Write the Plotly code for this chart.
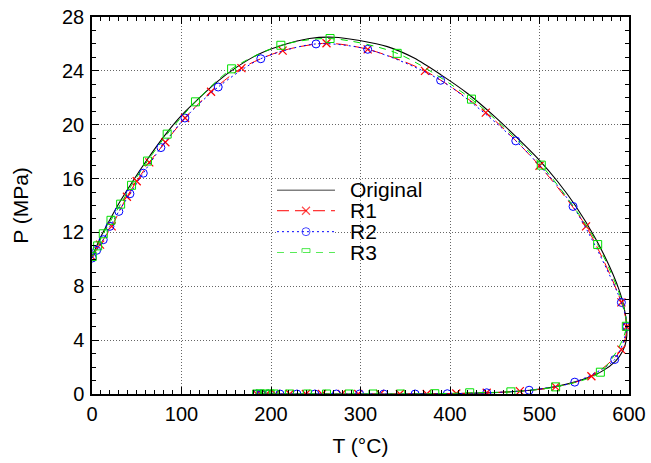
import plotly.graph_objects as go

# Original
T_orig = [0, 5, 10, 20, 30, 45, 60, 80, 100, 120, 140, 160, 185, 210, 243, 270, 299, 330, 360, 390,
          420, 450, 480, 500, 520, 540, 563, 578, 588, 594, 597.5, 597, 593, 585, 570, 555, 540, 518,
          490, 468, 440, 410, 380, 345, 300, 250, 183]
P_orig = [10.2, 10.95, 11.7, 12.95, 14.15, 15.75, 17.25, 19.1, 20.7, 22.0, 23.2, 24.2, 25.2, 25.85, 26.4,
          26.5, 26.25, 25.8, 24.95, 23.7, 22.3, 20.6, 18.7, 17.35, 15.8, 14.0, 11.5, 9.5, 7.9, 6.6, 5.0,
          4.0, 3.2, 2.45, 1.7, 1.25, 0.9, 0.55, 0.28, 0.17, 0.08, 0.04, 0.02, 0.0, 0.0, 0.0, 0.0]

# R1
T_r1 = [0, 9, 22, 39, 50, 64, 82, 104, 133, 167, 213, 262, 308, 372, 440, 500, 552, 591.5, 597.5, 591.5,
        558, 518, 478, 441, 407, 374, 344, 322, 297.5, 279, 257, 239, 221, 205, 195, 188, 184]
P_r1 = [10.2, 11.1, 12.45, 14.65, 15.8, 17.2, 18.7, 20.5, 22.45, 24.2, 25.5, 26.05, 25.6, 24.0, 20.9, 16.95,
        12.45, 6.8, 5.0, 3.3, 1.32, 0.53, 0.21, 0.09, 0.04, 0.0, 0.0, 0.0, 0.0, 0.0, 0.0, 0.0, 0.0, 0.0,
        0.0, 0.0, 0.0]

# R2
T_r2 = [0.3, 5.2, 12.6, 20, 30, 42.4, 57.3, 77, 103.8, 141, 188.6, 250.3, 308, 389.5, 473.5, 537.5, 591.5,
        597.5, 584, 539.4, 488.4, 441, 397, 361, 326, 299, 273, 249, 229, 210, 197, 189, 184]
P_r2 = [10.1, 10.67, 11.46, 12.45, 13.56, 14.87, 16.4, 18.3, 20.5, 22.8, 24.9, 26.0, 25.6, 23.3, 18.8, 13.93,
        6.8, 5.0, 2.56, 0.88, 0.28, 0.09, 0.02, 0.0, 0.0, 0.0, 0.0, 0.0, 0.0, 0.0, 0.0, 0.0, 0.0]

# R3
T_r3 = [0.3, 6.3, 12.6, 21.2, 32, 44.2, 62, 84, 115.6, 156, 211, 266, 341, 424, 502, 565, 597, 568, 518,
        468, 422, 383, 345, 314, 287.5, 262, 240.6, 220.5, 203.5, 199, 193.6, 188, 184]
P_r3 = [10.22, 11.0, 11.9, 12.9, 14.1, 15.5, 17.3, 19.3, 21.7, 24.15, 25.9, 26.4, 25.3, 21.9, 17.0, 11.1,
        5.03, 1.62, 0.53, 0.16, 0.09, 0.02, 0.0, 0.0, 0.0, 0.0, 0.0, 0.0, 0.0, 0.0, 0.0, 0.0, 0.0]

x_ticks = [0, 100, 200, 300, 400, 500, 600]
y_ticks = [0, 4, 8, 12, 16, 20, 24, 28]
series_names = ["Original", "R1", "R2", "R3"]

FONT = "Liberation Sans, Arial, Helvetica, sans-serif"

styles = [
    dict(line=dict(color="black", width=1.1), marker=None),
    dict(line=dict(color="#ff0000", width=1, dash="12px,6px"),
         marker=dict(symbol="x-thin-open", size=8, color="#ff0000", line=dict(color="#ff0000", width=1.2))),
    dict(line=dict(color="#0000ff", width=1, dash="2px,3px"),
         marker=dict(symbol="circle-open", size=8, color="#0000ff", line=dict(color="#0000ff", width=1))),
    dict(line=dict(color="#00e000", width=1, dash="7px,6px"),
         marker=dict(symbol="square-open", size=8, color="#00e000", line=dict(color="#00e000", width=1))),
]
data = [(T_orig, P_orig), (T_r1, P_r1), (T_r2, P_r2), (T_r3, P_r3)]

fig = go.Figure()
for (xs, ys), name, st in zip(data, series_names, styles):
    line = dict(st["line"], shape="spline", smoothing=0.8)
    if st["marker"] is None:
        fig.add_trace(go.Scatter(x=xs, y=ys, mode="lines", name=name, line=line, showlegend=False))
    else:
        fig.add_trace(go.Scatter(x=xs, y=ys, mode="lines+markers", name=name, line=line,
                                 marker=st["marker"], showlegend=False))

# legend keys (drawn on an auxiliary axis), one row per series
LEG_X = [0.3445, 0.4525]      # key line span (fraction of plot width)
LEG_Y = [0.375, 0.5417]       # rows span (fraction of plot height)
LEG_TEXT_X = 0.4767
n = len(series_names)
for i, (name, st) in enumerate(zip(series_names, styles)):
    if st["marker"] is None:
        fig.add_trace(go.Scatter(x=[0, 1], y=[i, i], mode="lines", line=dict(st["line"], width=1.6),
                                 xaxis="x2", yaxis="y2", showlegend=False, hoverinfo="skip"))
    else:
        mk = dict(st["marker"], size=[0, st["marker"]["size"], 0])
        fig.add_trace(go.Scatter(x=[0, 0.5, 1], y=[i, i, i], mode="lines+markers", line=st["line"],
                                 marker=mk, xaxis="x2", yaxis="y2", showlegend=False, hoverinfo="skip"))
    ypos = LEG_Y[1] - i * (LEG_Y[1] - LEG_Y[0]) / (n - 1)
    fig.add_annotation(x=LEG_TEXT_X, y=ypos, xref="paper", yref="paper", text=name, showarrow=False,
                       xanchor="left", yanchor="middle",
                       font=dict(family=FONT, size=21, color="black"))

axis_common = dict(
    showline=True, linecolor="black", linewidth=1.5, mirror="allticks",
    ticks="inside", ticklen=7, tickwidth=1, tickcolor="black",
    showgrid=True, gridcolor="#666666", gridwidth=1, griddash="1px,2px",
    zeroline=False, tickfont=dict(family=FONT, size=20, color="black"),
    automargin=False,
)

xaxis = dict(axis_common, range=[0, 600], tickvals=x_ticks, ticktext=[str(v) for v in x_ticks],
             minor=dict(dtick=10, ticks="inside", ticklen=4, tickcolor="black", showgrid=False),
             title=dict(text="T (°C)", font=dict(family=FONT, size=21, color="black"), standoff=15),
             ticklabelstandoff=1)
yaxis = dict(axis_common, range=[0, 28], tickvals=y_ticks, ticktext=[str(v) for v in y_ticks],
             minor=dict(dtick=1, ticks="inside", ticklen=4, tickcolor="black", showgrid=False),
             title=dict(text="P (MPa)", font=dict(family=FONT, size=21, color="black"), standoff=28),
             ticklabelstandoff=2)

fig.update_layout(
    width=651, height=463,
    margin=dict(l=92, r=22, t=17, b=69),
    paper_bgcolor="white", plot_bgcolor="white",
    font=dict(family=FONT, size=20, color="black"),
    showlegend=False,
    xaxis=xaxis, yaxis=yaxis,
    xaxis2=dict(domain=LEG_X, range=[0, 1], anchor="y2", visible=False, fixedrange=True),
    yaxis2=dict(domain=LEG_Y, range=[n - 1, 0], anchor="x2", visible=False, fixedrange=True),
)

fig.write_html("out.html")
